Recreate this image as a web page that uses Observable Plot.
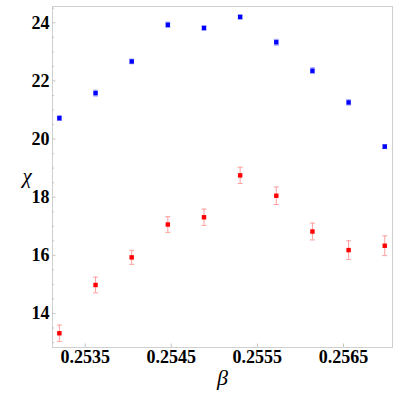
<!DOCTYPE html>
<html>
<head>
<meta charset="utf-8">
<script src="https://cdn.jsdelivr.net/npm/d3@7"></script>
<script src="https://cdn.jsdelivr.net/npm/@observablehq/plot@0.6"></script>
<style>
  html, body { margin: 0; padding: 0; background: #fff; }
</style>
</head>
<body>
<div id="chart"></div>
<script>
const beta = [0.2532, 0.25362, 0.25404, 0.25446, 0.25488, 0.2553, 0.25572, 0.25614, 0.25656, 0.25698];
const chiBlue = [20.72, 21.58, 22.67, 23.93, 23.82, 24.2, 23.33, 22.35, 21.26, 19.74];
const errBlue = [0.08, 0.1, 0.08, 0.09, 0.07, 0.07, 0.1, 0.1, 0.09, 0.07];
const chiRed = [13.32, 14.98, 15.93, 17.06, 17.31, 18.75, 18.05, 16.82, 16.18, 16.33];
const errRed = [0.28, 0.27, 0.24, 0.27, 0.28, 0.28, 0.3, 0.29, 0.32, 0.34];
const xTicks = [0.2535, 0.2545, 0.2555, 0.2565];
const yTicks = [14, 16, 18, 20, 22, 24];
const yMinor = [13, 13.5, 14.5, 15, 15.5, 16.5, 17, 17.5, 18.5, 19, 19.5, 20.5, 21, 21.5, 22.5, 23, 23.5, 24.5];
const xLabel = "β";
const yLabel = "χ";

const blue = beta.map((b, i) => ({beta: b, chi: chiBlue[i], lo: chiBlue[i] - errBlue[i], hi: chiBlue[i] + errBlue[i]}));
const red = beta.map((b, i) => ({beta: b, chi: chiRed[i], lo: chiRed[i] - errRed[i], hi: chiRed[i] + errRed[i]}));

const capSymbol = {
  draw(context, size) {
    const r = 2.5;
    context.moveTo(-r, 0);
    context.lineTo(r, 0);
  }
};

function series(data, dotColor, barColor) {
  return [
    Plot.ruleX(data, {x: "beta", y1: "lo", y2: "hi", stroke: barColor, strokeWidth: 1}),
    Plot.dot(data, {x: "beta", y: "lo", symbol: capSymbol, stroke: barColor, strokeWidth: 1, r: 2.5}),
    Plot.dot(data, {x: "beta", y: "hi", symbol: capSymbol, stroke: barColor, strokeWidth: 1, r: 2.5}),
    Plot.dot(data, {x: "beta", y: "chi", symbol: "square", fill: dotColor, stroke: "none", r: 2.5})
  ];
}

const serif = "Liberation Serif";

const chart = Plot.plot({
  width: 399,
  height: 399,
  marginLeft: 52,
  marginRight: 7,
  marginTop: 6,
  marginBottom: 52,
  style: "font-family: 'Liberation Serif', serif; font-size: 18px; font-weight: bold; color: #000; background: #fff;",
  x: {domain: [0.25312, 0.25707]},
  y: {domain: [12.83, 24.56]},
  marks: [
    Plot.frame({stroke: "#cfcfcf"}),
    Plot.axisY({ticks: yMinor, tickSize: -2, fill: "none", stroke: "#c4c4c4", label: null}),
    Plot.axisY({ticks: yTicks, tickSize: -3.5, fill: "none", stroke: "#c4c4c4", label: null}),
    Plot.axisY({ticks: yTicks, tickSize: 0, tickPadding: 3, tickFormat: d => String(d), label: null, fontFamily: serif, fontSize: 18, fontWeight: "bold", fontVariant: "normal"}),
    Plot.axisX({ticks: xTicks, tickSize: -3.5, fill: "none", stroke: "#c4c4c4", label: null}),
    Plot.axisX({ticks: xTicks, tickSize: 0, tickPadding: 3, tickFormat: d => d.toFixed(4), label: null, fontFamily: serif, fontSize: 18, fontWeight: "bold", fontVariant: "normal"}),
    ...series(red, "#ff0000", "#ff9e9e"),
    ...series(blue, "#0000ff", "#9a9aff"),
    Plot.text([yLabel], {text: d => d, frameAnchor: "left", dx: -30, dy: -1, fontFamily: serif, fontStyle: "italic", fontWeight: "normal", fontSize: 21}),
    Plot.text([xLabel], {text: d => d, frameAnchor: "bottom", dy: 37, fontFamily: serif, fontStyle: "italic", fontWeight: "normal", fontSize: 22})
  ]
});
document.getElementById("chart").appendChild(chart);
</script>
</body>
</html>
